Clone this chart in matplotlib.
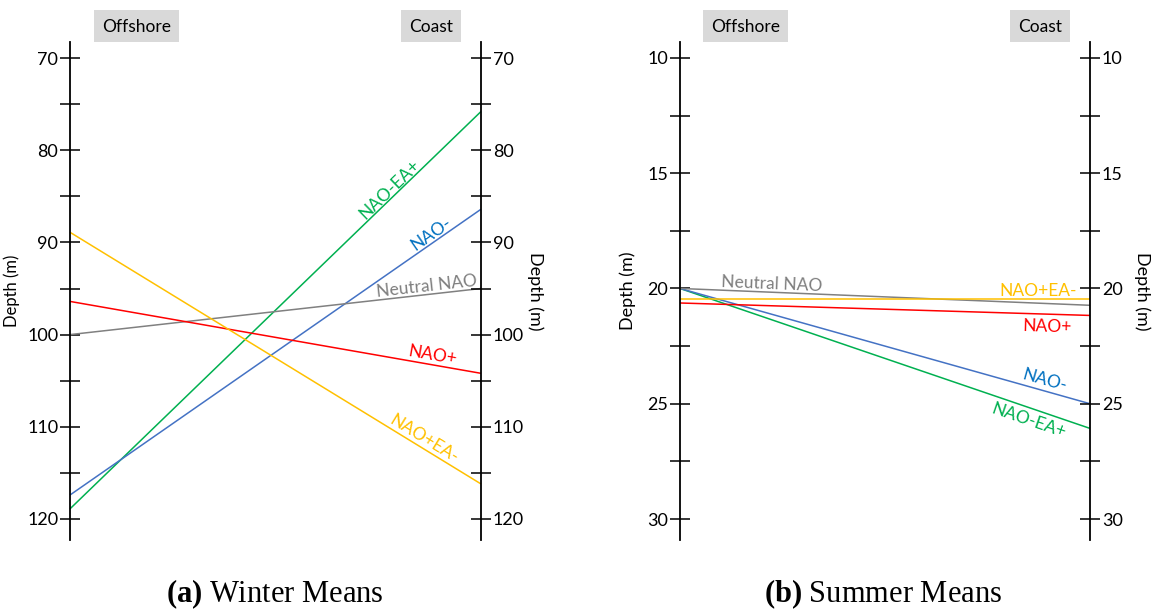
import numpy as np
import matplotlib
matplotlib.use("Agg")
import matplotlib.pyplot as plt
from matplotlib.patches import Rectangle
from matplotlib.ticker import MultipleLocator

plt.rcParams['font.family'] = ['Lato', 'DejaVu Sans']
plt.rcParams['mathtext.fontset'] = 'custom'
plt.rcParams['mathtext.rm'] = 'Liberation Serif'
plt.rcParams['mathtext.bf'] = 'Liberation Serif:bold'

# ---------------- data ----------------
series = ["NAO-EA+", "NAO-", "Neutral NAO", "NAO+", "NAO+EA-"]
winter_offshore = [118.9, 117.4, 100.0, 96.4, 88.9]
winter_coast = [75.8, 86.4, 95.0, 104.2, 116.2]
summer_offshore = [20.0, 20.0, 20.0, 20.63, 20.45]
summer_coast = [26.07, 25.0, 20.73, 21.17, 20.45]

line_colors = ["#00b050", "#4472c4", "#808080", "#ff0000", "#ffc000"]
text_colors = ["#00b050", "#0070c0", "#7f7f7f", "#ff0000", "#ffc000"]

# label placement: (fraction along x, perpendicular baseline offset in px)
winter_lab = [(0.79, 2.5), (0.89, 3.0), (0.87, 3.0), (0.878, 4.0), (0.85, 3.7)]
summer_lab = [(0.861, -18.0), (0.883, 5.5), (0.222, 3.5), (0.896, -18.0), (0.873, 3.0)]

W, H = 1159, 610
fig = plt.figure(figsize=(W / 100, H / 100), dpi=100)


def px_axes(x0, x1, ytop, ybot):
    return fig.add_axes([x0 / W, 1 - ybot / H, (x1 - x0) / W, (ybot - ytop) / H])


def style_y(a, major, minor, side):
    a.yaxis.set_major_locator(MultipleLocator(major))
    a.yaxis.set_minor_locator(MultipleLocator(minor))
    if side == 'left':
        a.tick_params(axis='y', which='both', direction='inout', length=15, width=1.1,
                      left=True, right=False, labelleft=True, labelright=False,
                      labelsize=13, pad=1)
    else:
        a.tick_params(axis='y', which='both', direction='inout', length=15, width=1.1,
                      left=False, right=True, labelleft=False, labelright=True,
                      labelsize=13, pad=1)


def make_panel(x0, x1, ylim, major, minor, off, coast, labs, left_lab_size, right_lab_size,
               lpad, rpad, boxes, caption, cap_x):
    ax = px_axes(x0, x1, 42, 540)
    ax.set_xlim(0, 1)
    ax.set_ylim(*ylim)
    tw = ax.twinx()
    tw.set_ylim(*ylim)
    for a in (ax, tw):
        for s in ["top", "bottom"]:
            a.spines[s].set_visible(False)
        a.set_xticks([])
    ax.spines["right"].set_visible(False)
    tw.spines["left"].set_visible(False)
    ax.spines["left"].set_linewidth(1.3)
    tw.spines["right"].set_linewidth(1.3)
    style_y(ax, major, minor, 'left')
    style_y(tw, major, minor, 'right')
    ax.set_ylabel("Depth (m)", fontsize=left_lab_size, labelpad=lpad)
    tw.set_ylabel("Depth (m)", fontsize=right_lab_size, rotation=270, labelpad=rpad)

    for i, name in enumerate(series):
        ax.plot([0, 1], [off[i], coast[i]], color=line_colors[i], lw=1.1,
                solid_capstyle='butt', clip_on=False)
    fig.canvas.draw()
    for i, name in enumerate(series):
        p0 = ax.transData.transform((0, off[i]))
        p1 = ax.transData.transform((1, coast[i]))
        ang = np.degrees(np.arctan2(p1[1] - p0[1], p1[0] - p0[0]))
        t, d = labs[i]
        yv = off[i] + t * (coast[i] - off[i])
        nx, ny = -np.sin(np.radians(ang)), np.cos(np.radians(ang))
        ax.annotate(name, xy=(t, yv), xytext=(nx * d, ny * d), textcoords='offset pixels',
                    rotation=ang, rotation_mode='anchor', ha='center', va='baseline',
                    color=text_colors[i], fontsize=12.5)
    for (bx0, bx1, txt) in boxes:
        fig.patches.append(Rectangle((bx0 / W, 1 - 42 / H), (bx1 - bx0) / W, 32 / H,
                                     transform=fig.transFigure, facecolor="#d9d9d9",
                                     edgecolor="none"))
        fig.text((bx0 + bx1) / 2 / W, 1 - 26.5 / H, txt, ha='center', va='center', fontsize=12.5)
    fig.text(cap_x / W, 1 - 594 / H, caption, ha='center', va='center', fontsize=22,
             family='Liberation Serif')
    return ax


make_panel(70, 481, (122.28, 68.26), 10, 5, winter_offshore, winter_coast, winter_lab,
           12, 13, 5, 14,
           [(94, 179, "Offshore"), (401, 461, "Coast")],
           r"$\mathbf{(a)}$ Winter Means", 275)
make_panel(680, 1090, (30.91, 9.31), 5, 2.5, summer_offshore, summer_coast, summer_lab,
           13, 13, 8, 20,
           [(703, 788, "Offshore"), (1010, 1070, "Coast")],
           r"$\mathbf{(b)}$ Summer Means", 883)

fig.savefig("out.png", dpi=100)
